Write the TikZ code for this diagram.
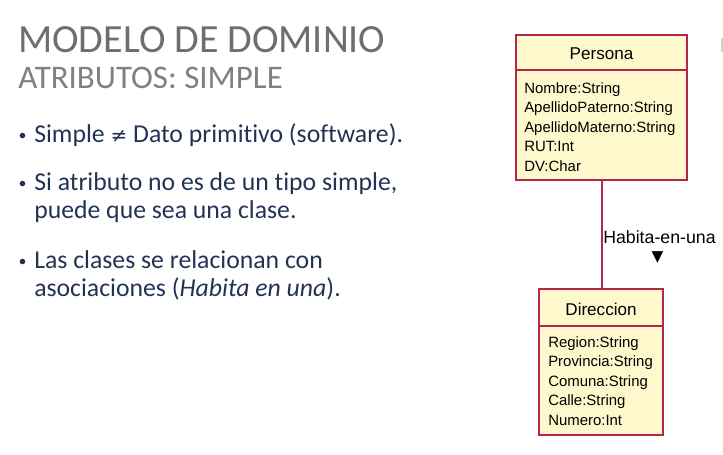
\documentclass[tikz,border=0pt]{standalone}
\usepackage{fontspec}
\setmainfont[Ligatures=NoCommon]{Carlito}
\newfontfamily\umlfont{Liberation Sans}
\newfontfamily\symfont{DejaVu Sans}
\definecolor{umlborder}{HTML}{B3264B}
\definecolor{umlfill}{HTML}{FFF8CC}
\definecolor{titlegray}{HTML}{6E6E6E}
\definecolor{subgray}{HTML}{808080}
\definecolor{bodyblue}{HTML}{243355}
\tikzset{
  classbox/.style={draw=umlborder, fill=umlfill, line width=1.6pt},
  classname/.style={font=\umlfont\fontsize{12.8pt}{14pt}\selectfont, anchor=base, inner sep=0pt},
  attr/.style={font=\umlfont\fontsize{11.2pt}{12pt}\selectfont, anchor=base west, inner sep=0pt},
  bullettext/.style={font=\fontsize{19.3pt}{21pt}\selectfont, text=bodyblue, anchor=base west, inner sep=0pt},
  bulletdot/.style={circle, fill=bodyblue, inner sep=0pt, minimum size=4.2pt},
}
\begin{document}
\begin{tikzpicture}[x=0.75pt, y=-0.75pt]
\useasboundingbox (0,0) rectangle (723,454);
\fill[white] (0,0) rectangle (723,454);

% headings
\node[anchor=base west, inner sep=0pt, text=titlegray, font=\fontsize{30pt}{32pt}\selectfont] (title) at (18,52) {MODELO DE DOMINIO};
\node[anchor=base west, inner sep=0pt, text=subgray, font=\fontsize{24.7pt}{26pt}\selectfont] (subtitle) at (18,88) {ATRIBUTOS: SIMPLE};

% bullet list
\node[bulletdot] (d1) at (22.5,135.5) {};
\node[bullettext] (b1) at (34,142) {Simple {\symfont\fontsize{15pt}{17pt}\selectfont ≠} Dato primitivo (software).};
\node[bulletdot] (d2) at (22.5,183.5) {};
\node[bullettext] (b2) at (34,190) {Si atributo no es de un tipo simple,};
\node[bullettext] (b2b) at (34,218) {puede que sea una clase.};
\node[bulletdot] (d3) at (22.5,261.5) {};
\node[bullettext] (b3) at (34,268) {Las clases se relacionan con};
\node[bullettext] (b3b) at (34,296) {asociaciones (\textit{Habita en una}).};

% association line between the two classes
\coordinate (assocTop) at (601.5,180);
\coordinate (assocBot) at (601.5,289);
\draw[umlborder, line width=1.5pt] (assocTop) -- (assocBot);
\node[anchor=base west, inner sep=0pt, font=\umlfont\fontsize{13.3pt}{15pt}\selectfont] (assoclabel) at (603,243) {Habita-en-una};
\node[anchor=center, inner sep=0pt, font=\symfont\fontsize{11.5pt}{12pt}\selectfont] (assocdir) at (657.5,258) {▼};

% class Persona
\draw[classbox] (516,35) rectangle (687,180);
\draw[umlborder, line width=1.6pt] (516,70) -- (687,70);
\node[classname] (persona) at (601.5,59) {Persona};
\node[attr] (p1) at (524,93) {Nombre:String};
\node[attr] (p2) at (524,112.5) {ApellidoPaterno:String};
\node[attr] (p3) at (524,132) {ApellidoMaterno:String};
\node[attr] (p4) at (524,151.5) {RUT:Int};
\node[attr] (p5) at (524,171) {DV:Char};

% class Direccion
\draw[classbox] (539,289) rectangle (663,435);
\draw[umlborder, line width=1.6pt] (539,326) -- (663,326);
\node[classname] (direccion) at (601,315) {Direccion};
\node[attr] (d_1) at (548,347) {Region:String};
\node[attr] (d_2) at (548,366.5) {Provincia:String};
\node[attr] (d_3) at (548,386) {Comuna:String};
\node[attr] (d_4) at (548,405.5) {Calle:String};
\node[attr] (d_5) at (548,425) {Numero:Int};

% thin mark at the right edge
\fill[black!18] (720.5,38) rectangle (723,52);
\end{tikzpicture}
\end{document}
